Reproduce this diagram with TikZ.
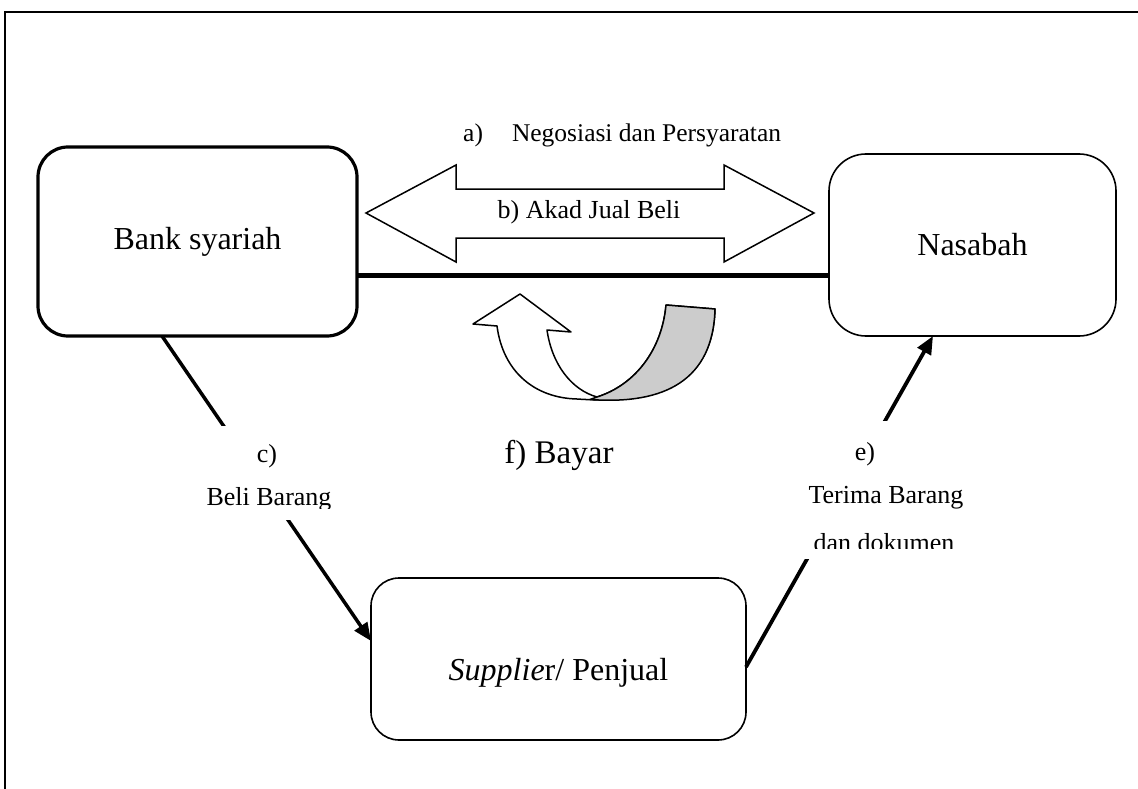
\documentclass[tikz,border=0pt]{standalone}
\usepackage{fontspec}
\setmainfont{Liberation Serif}
\usetikzlibrary{arrows.meta}
\begin{document}
\begin{tikzpicture}[x=1pt,y=-1pt,
  box/.style={draw, line width=1.6pt, inner sep=0pt, outer sep=0pt,
    font=\fontsize{32}{38}\selectfont},
  conn/.style={line width=3.5pt, -{Triangle[length=18pt,width=15pt]}},
  mask/.style={fill=white, inner sep=0pt, outer sep=0pt},
  lbl/.style={font=\fontsize{26}{30}\selectfont, inner sep=0pt, anchor=base},
  strip/.style={line width=1.5pt, line join=round},
]
\useasboundingbox (0,0) rectangle (1138,789);
\fill[white] (0,0) rectangle (1138,789);

% page frame
\draw[line width=1.5pt] (5,789) -- (5,12) -- (1140,12);

% parties
\node[box, line width=3.2pt, rounded corners=30pt, minimum width=319pt,
      minimum height=189pt] (bank) at (197.5,241.5) {Bank syariah};
\node[box, rounded corners=37pt, minimum width=287pt,
      minimum height=182pt] (nasabah) at (972.5,245) {Nasabah};
\node[box, rounded corners=28pt, minimum width=375pt, minimum height=162pt,
      text height=49pt, text depth=7pt] (supplier) at (558.5,659)
      {\textit{Supplie}r/ Penjual};

% bank -- customer link
\draw[line width=5pt] ([yshift=-33.5pt]bank.east) -- ([yshift=-30pt]nasabah.west);

% two-headed block arrow
\draw[line width=1.5pt, fill=white] (366,213) -- (456,165) -- (456,189)
  -- (724,189) -- (724,165) -- (814,213) -- (724,262) -- (724,238)
  -- (456,238) -- (456,262) -- cycle;
\node[lbl, font=\fontsize{25.5}{30}\selectfont, anchor=base west] (nego)
  at (463,142) {a)\hspace{29pt}Negosiasi dan Persyaratan};
\node[lbl] (akad) at (589,218) {b) Akad Jual Beli};

% U-turn arrow (payment)
\draw[strip, fill=white] (520,294) -- (571,332) -- (547,330)
  .. controls (552,365) and (572,390) .. (597,397)
  .. controls (635,385) and (662,350) .. (666,305)
  -- (715,309)
  .. controls (713,380) and (665,405) .. (577,399)
  .. controls (535,398) and (503,372) .. (497,326)
  -- (473,324) -- cycle;
\draw[strip, fill=black!20] (597,397)
  .. controls (635,385) and (662,350) .. (666,305)
  -- (715,309)
  .. controls (713,380) and (665,405) .. (590,399.5) -- cycle;
\node[lbl, font=\fontsize{33}{38}\selectfont] (bayar) at (559,463) {f) Bayar};

% purchase and delivery
\draw[conn] ([xshift=-35.5pt]bank.south) -- ([yshift=18pt]supplier.west);
\draw[conn, line width=3.8pt] ([yshift=-8pt]supplier.east) -- ([xshift=-39.5pt]nasabah.south);

% label boxes over the connectors
\node[mask, minimum width=170pt, minimum height=94pt] (cmask) at (268,472.5) {};
\node[mask, minimum width=190pt, minimum height=138pt] (emask) at (885,490) {};

\node[lbl] (cl1) at (267,462) {c)};
\begin{scope}
  \clip (150,400) rectangle (400,508);
  \node[lbl] (cl2) at (269,505) {Beli Barang};
\end{scope}
\node[lbl] (el1) at (865,460) {e)};
\node[lbl] (el2) at (886,503) {Terima Barang};
\begin{scope}
  \clip (780,400) rectangle (1000,548);
  \node[lbl] (el3) at (884,551) {dan dokumen};
\end{scope}
\end{tikzpicture}
\end{document}
